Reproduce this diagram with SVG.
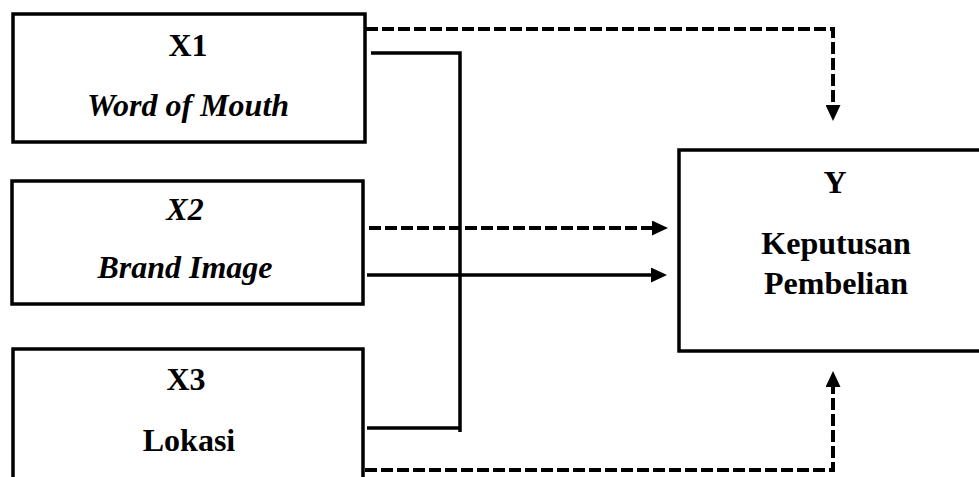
<svg xmlns="http://www.w3.org/2000/svg" width="979" height="477" viewBox="0 0 979 477">
  <defs>
    <style>
      .box { fill: #fff; stroke: #000; stroke-width: 3.5; }
      .lbl { font-family: "Liberation Serif", "Times New Roman", serif; font-weight: bold; font-size: 32px; fill: #000; text-anchor: middle; }
      .it { font-style: italic; }
      .solid { fill: none; stroke: #000; stroke-width: 3.5; }
      .dash { fill: none; stroke: #000; stroke-width: 4; stroke-dasharray: 12 4; }
    </style>
    <marker id="head" markerUnits="userSpaceOnUse" markerWidth="16" markerHeight="15" viewBox="0 0 16 15" refX="1" refY="7.5" orient="auto">
      <path d="M0,0 L16,7.5 L0,15 Z" fill="#000"/>
    </marker>
  </defs>
  <rect width="979" height="477" fill="#fff"/>

  <g id="x1">
    <rect class="box" x="13" y="14" width="352" height="128"/>
    <text class="lbl" x="188" y="56">X1</text>
    <text class="lbl it" x="188" y="116">Word of Mouth</text>
  </g>

  <g id="x2">
    <rect class="box" x="12" y="181" width="351" height="123"/>
    <text class="lbl it" x="185" y="220">X2</text>
    <text class="lbl it" x="185" y="278">Brand Image</text>
  </g>

  <g id="x3">
    <rect class="box" x="13" y="349" width="350" height="140"/>
    <text class="lbl" x="186" y="390">X3</text>
    <text class="lbl" x="189" y="451">Lokasi</text>
  </g>

  <g id="y">
    <rect class="box" x="679" y="150" width="310" height="201"/>
    <text class="lbl" x="835" y="193">Y</text>
    <text class="lbl" x="836" y="254">Keputusan</text>
    <text class="lbl" x="836" y="294">Pembelian</text>
  </g>

  <g id="connectors">
    <!-- simultaneous paths (dashed) -->
    <path class="dash" d="M366,29 H833 V106" marker-end="url(#head)"/>
    <path class="dash" d="M369,228 H653" marker-end="url(#head)"/>
    <path class="dash" d="M365,470 H833 V386" marker-end="url(#head)"/>
    <!-- combined bus (solid) -->
    <path class="solid" d="M371,53 H460 V432"/>
    <path class="solid" d="M367,428 H460"/>
    <path class="solid" d="M367,275 H652" marker-end="url(#head)"/>
  </g>
</svg>
